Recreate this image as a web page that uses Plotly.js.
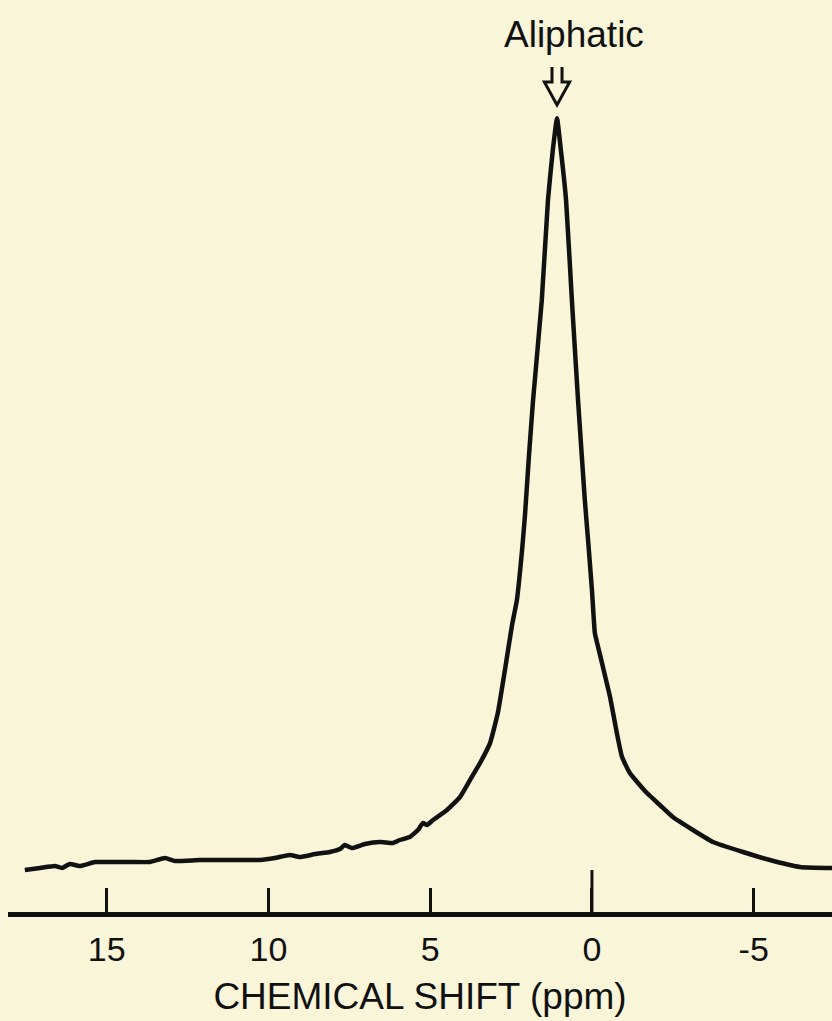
<!DOCTYPE html>
<html>
<head>
<meta charset="utf-8">
<script src="https://cdn.plot.ly/plotly-3.0.1.min.js"></script>
<style>
  html, body { margin: 0; padding: 0; background: #f8f5d8; }
  #chart { width: 832px; height: 1021px; }
</style>
</head>
<body>
<div id="chart"></div>
<script>
// Chemical shift (ppm) and relative intensity (peak = 100)
const shiftPpm = [17.53,17.06,16.60,16.38,16.14,15.83,15.36,14.90,14.28,13.66,13.20,12.89,12.12,11.19,10.26,9.80,9.34,9.03,8.56,8.10,7.79,7.64,7.42,7.02,6.55,6.15,5.94,5.63,5.38,5.22,5.10,4.91,4.48,4.08,3.77,3.46,3.15,2.91,2.69,2.47,2.32,2.16,2.07,1.95,1.82,1.55,1.36,1.21,1.08,0.96,0.80,0.62,0.43,0.22,0.12,0.00,-0.09,-0.19,-0.34,-0.56,-0.77,-0.93,-1.17,-1.70,-2.10,-2.50,-3.12,-3.74,-4.67,-5.50,-6.43,-7.42];
const intensity = [5.29,5.54,5.79,5.54,6.05,5.79,6.30,6.30,6.30,6.30,6.80,6.42,6.55,6.55,6.55,6.80,7.18,6.93,7.30,7.56,7.93,8.44,8.06,8.56,8.82,8.69,9.07,9.45,10.33,11.21,10.96,11.59,12.85,14.48,16.62,18.77,21.28,25.06,30.48,36.15,39.29,45.59,50.00,57.30,64.48,77.08,89.67,95.97,100,95.97,89.67,77.08,64.48,51.89,46.85,40.55,35.14,33.38,30.86,27.08,22.54,19.52,17.51,14.99,13.48,11.96,10.33,8.82,7.56,6.55,5.67,5.54];
const tickValues = [15, 10, 5, 0, -5];
const tickLabels = ['15', '10', '5', '0', '-5'];
const peakLabel = 'Aliphatic';
const peakShift = 1.08;
const xTitle = 'CHEMICAL SHIFT (ppm)';

const bg = '#f8f5d8';
const ink = '#111111';
const font = 'Liberation Sans, Arial, sans-serif';

const trace = {
  x: shiftPpm, y: intensity, type: 'scatter', mode: 'lines',
  line: {color: ink, width: 4.5, shape: 'spline', smoothing: 0.4},
  hoverinfo: 'skip', showlegend: false
};

// hollow down arrow above the peak
const hw = 0.155, hh = 0.39;
const yTop = 0.9265, yBase = 0.910, yTip = 0.885;
const arrowPath = `M ${peakShift - hw} ${yTop} L ${peakShift - hw} ${yBase} L ${peakShift - hh} ${yBase} L ${peakShift} ${yTip} L ${peakShift + hh} ${yBase} L ${peakShift + hw} ${yBase} L ${peakShift + hw} ${yTop}`;

const layout = {
  width: 832, height: 1021,
  margin: {l: 8, r: 0, t: 0, b: 109},
  paper_bgcolor: bg, plot_bgcolor: bg,
  showlegend: false,
  xaxis: {
    range: [18.05, -7.42],
    showgrid: false, zeroline: false,
    showline: true, linecolor: ink, linewidth: 5,
    ticks: 'inside', ticklen: 24, tickwidth: 3, tickcolor: ink,
    tickvals: tickValues, ticktext: tickLabels,
    tickfont: {family: font, size: 34, color: ink},
    ticklabelstandoff: 3,
    title: {text: xTitle, font: {family: font, size: 37, color: ink}, standoff: 18},
    fixedrange: true
  },
  yaxis: {
    range: [0, 114.9], visible: false, showgrid: false, zeroline: false, fixedrange: true
  },
  shapes: [
    {type: 'line', xref: 'x', yref: 'y domain', x0: 0, x1: 0, y0: 0, y1: 0.046,
     line: {color: ink, width: 3}},
    {type: 'path', xref: 'x', yref: 'paper', path: arrowPath,
     line: {color: ink, width: 3}, fillcolor: 'rgba(0,0,0,0)'}
  ],
  annotations: [
    {text: peakLabel, xref: 'x', yref: 'paper', x: peakShift, xshift: 17, y: 0.962,
     showarrow: false, font: {family: font, size: 37, color: ink}, xanchor: 'center', yanchor: 'middle'}
  ]
};

Plotly.newPlot('chart', [trace], layout, {staticPlot: true, displayModeBar: false});
</script>
</body>
</html>
